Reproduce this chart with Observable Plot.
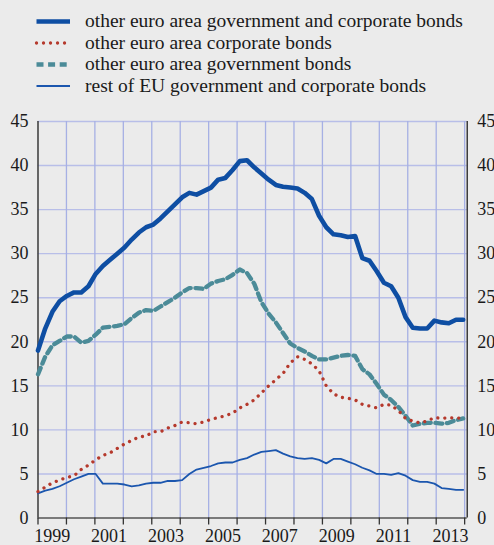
<!DOCTYPE html>
<html><head><meta charset="utf-8">
<script src="https://cdn.jsdelivr.net/npm/d3@7"></script>
<script src="https://cdn.jsdelivr.net/npm/@observablehq/plot@0.6"></script>
<style>
html,body{margin:0;padding:0;background:#ebebeb;width:494px;height:545px;overflow:hidden;font-family:'Liberation Serif','DejaVu Serif',serif;}
#legend{position:absolute;left:0;top:0;}
#chart{position:absolute;left:0;top:105px;}
svg text{font-family:'Liberation Serif','DejaVu Serif',serif;}
</style></head><body>
<div id="legend"></div><div id="chart"></div>
<script>
// Series names (legend order)
const seriesNames = [
  "other euro area government and corporate bonds",
  "other euro area corporate bonds",
  "other euro area government bonds",
  "rest of EU government and corporate bonds"
];
// Quarterly observations, 1999 Q1 – 2013 Q4 (percentages)
const govCorp = [19.0,21.5,23.4,24.6,25.2,25.6,25.6,26.3,27.7,28.6, 29.3,30.0,30.7,31.6,32.4,33.0,33.3,34.0,34.8,35.6,
                 36.4,36.9,36.7,37.1,37.5,38.4,38.6,39.5,40.5,40.6, 39.8,39.1,38.4,37.8,37.6,37.5,37.4,36.9,36.2,34.3,
                 33.0,32.2,32.1,31.9,32.0,29.5,29.2,28.0,26.7,26.3, 25.0,22.8,21.6,21.5,21.5,22.4,22.2,22.1,22.5,22.5];
const corp    = [3.0,3.5,4.0,4.3,4.6,4.8,5.5,6.0,6.6,7.1, 7.4,7.9,8.4,8.8,9.2,9.3,9.8,9.8,10.2,10.5,
                 10.9,10.8,10.7,10.9,11.2,11.4,11.6,11.9,12.5,12.9, 13.4,14.2,15.0,15.7,16.4,17.6,18.3,18.0,17.5,16.7,
                 15.0,14.1,13.7,13.6,13.4,12.9,12.7,12.5,12.9,12.8, 12.2,11.3,11.0,10.8,11.0,11.4,11.3,11.4,11.3,11.4];
const gov     = [16.3,18.3,19.6,20.1,20.6,20.6,19.9,20.1,20.8,21.6, 21.7,21.8,22.0,22.7,23.3,23.6,23.5,24.0,24.5,25.0,
                 25.6,26.1,26.1,26.0,26.6,26.9,27.1,27.6,28.2,27.8, 26.6,24.5,23.2,22.2,21.0,19.8,19.3,18.9,18.4,18.0,
                 18.0,18.2,18.4,18.5,18.4,16.9,16.3,15.2,14.0,13.4, 12.6,11.6,10.5,10.7,10.8,10.8,10.7,10.8,11.1,11.3];
const restEU  = [2.8,3.1,3.3,3.6,4.0,4.4,4.7,5.0,5.0,3.9, 3.9,3.9,3.8,3.6,3.7,3.9,4.0,4.0,4.2,4.2,
                 4.3,5.0,5.5,5.7,5.9,6.2,6.3,6.3,6.6,6.8, 7.2,7.5,7.6,7.7,7.3,7.0,6.8,6.7,6.8,6.6,
                 6.2,6.7,6.7,6.4,6.1,5.7,5.4,5.0,5.0,4.9, 5.1,4.8,4.3,4.1,4.1,3.9,3.4,3.3,3.2,3.2];
const yTicks = [0,5,10,15,20,25,30,35,40,45];
const yearLabels = [1999,2001,2003,2005,2007,2009,2011,2013];
const firstYear = 1999, lastObs = 2013.95;

const colors = ["#0e4ea3", "#b5392c", "#4b8b98", "#1b56ae"];
const serif = "'Liberation Serif','DejaVu Serif',serif";

const n = govCorp.length;
const data = d3.range(n).map(i => ({
  t: firstYear + i * (lastObs - firstYear) / (n - 1),
  govCorp: govCorp[i], corp: corp[i], gov: gov[i], restEU: restEU[i]
}));
const yearBounds = d3.range(1999, 2015);

// Legend
const styles = [
  {w: 4.6, dash: null, cap: "butt"},
  {w: 3.3, dash: "0.01,7", cap: "round"},
  {w: 4.3, dash: "7,4.6", cap: "butt"},
  {w: 1.8, dash: null, cap: "butt"}
];
const rowY = [21.5, 43, 64.5, 86];
const leg = d3.select("#legend").append("svg").attr("width", 494).attr("height", 105);
seriesNames.forEach((name, i) => {
  leg.append("line").attr("x1", 36.5).attr("x2", 70).attr("y1", rowY[i]).attr("y2", rowY[i])
    .attr("stroke", colors[i]).attr("stroke-width", styles[i].w)
    .attr("stroke-dasharray", styles[i].dash).attr("stroke-linecap", styles[i].cap);
  leg.append("text").attr("x", 85).attr("y", rowY[i] + 5.8).text(name)
    .style("font-family", serif).style("font-size", "19.5px").attr("fill", "#1a1a1a");
});

const chart = Plot.plot({
  width: 494, height: 440,
  marginLeft: 37.5, marginRight: 27.3, marginTop: 16, marginBottom: 27.5,
  x: {domain: [1999, 2014.09], axis: null},
  y: {domain: [0, 45], axis: null},
  style: {background: "transparent", fontFamily: serif, fontSize: "18px", color: "#1a1a1a", overflow: "visible"},
  marks: [
    Plot.ruleY(yTicks.filter(d => d > 0), {y: d => d, stroke: "#b8bee8", strokeWidth: 1.4, strokeOpacity: 1}),
    Plot.ruleX(yearBounds.filter(d => d > 1999), {x: d => d, stroke: "#a6b0e4", strokeWidth: 1.3, strokeOpacity: 1}),
    Plot.ruleY([0], {stroke: "#555", strokeWidth: 1.3}),
    Plot.ruleX([1999], {stroke: "#444", strokeWidth: 1.6}),
    Plot.ruleX([2014.09], {stroke: "#111", strokeWidth: 1.2}),
    Plot.axisX({ticks: yearBounds, tickSize: 7, tickFormat: () => "", label: null, stroke: "#333", strokeWidth: 1.3}),
    Plot.text(yTicks, {y: d => d, text: d => String(d), frameAnchor: "left", textAnchor: "end", dx: -9.5, fill: "#1a1a1a"}),
    Plot.text(yTicks, {y: d => d, text: d => String(d), frameAnchor: "right", textAnchor: "start", dx: 10, fill: "#1a1a1a"}),
    Plot.text(yearLabels, {x: d => d + 0.5, text: d => String(d), frameAnchor: "bottom", lineAnchor: "top", dy: 11.5, fill: "#1a1a1a"}),
    Plot.line(data, {x: "t", y: "restEU", stroke: colors[3], strokeWidth: 1.8}),
    Plot.line(data, {x: "t", y: "gov", stroke: colors[2], strokeWidth: 4.3, strokeDasharray: "7,4.6"}),
    Plot.line(data, {x: "t", y: "corp", stroke: colors[1], strokeWidth: 3.3, strokeDasharray: "0.01,7", strokeLinecap: "round"}),
    Plot.line(data, {x: "t", y: "govCorp", stroke: colors[0], strokeWidth: 4.6})
  ]
});
document.getElementById("chart").appendChild(chart);
</script></body></html>
